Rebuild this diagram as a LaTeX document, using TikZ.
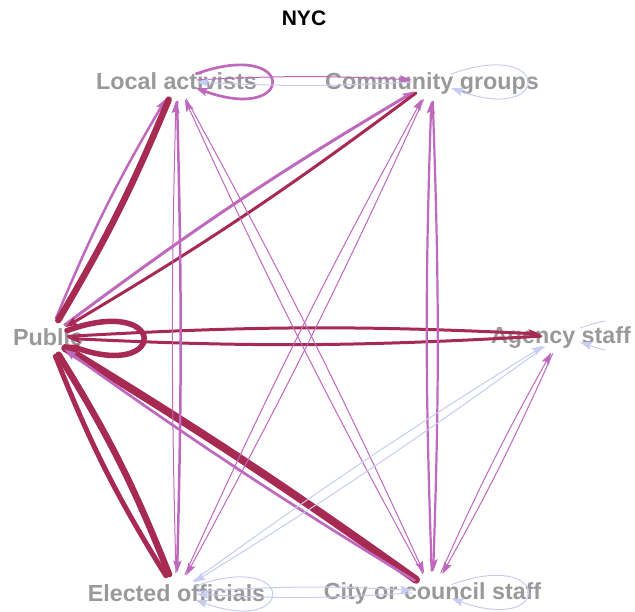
\documentclass[tikz,border=0pt]{standalone}
\usepackage{fontspec}
\setmainfont{Liberation Sans}
\usetikzlibrary{arrows.meta}
\definecolor{crim}{RGB}{167,42,83}
\definecolor{orch}{RGB}{190,104,190}
\definecolor{lav}{RGB}{200,204,240}
\definecolor{labgray}{RGB}{153,153,153}
\tikzset{
  vtx/.style={circle, minimum size=40pt, inner sep=0pt, draw=none},
  lab/.style={font=\bfseries\fontsize{23.3}{28}\selectfont, text=labgray, inner sep=0pt, anchor=base},
  crimline/.style={draw=crim, line cap=round},
  orchline/.style={draw=orch},
  lavline/.style={draw=lav, line width=1pt},
  arw/.style={-{Stealth[length=12pt,width=8pt,inset=2pt]}},
}
\begin{document}
\begin{tikzpicture}[x=1pt,y=1pt]
\useasboundingbox (0,0) rectangle (635,-611);
% vertices
\node[vtx] (la)  at (176.5,-81) {};
\node[vtx] (cg)  at (432,-81) {};
\node[vtx] (pub) at (48,-337.5) {};
\node[vtx] (as)  at (561,-335) {};
\node[vtx] (eo)  at (176.5,-593) {};
\node[vtx] (cs)  at (432.5,-591.5) {};
% title
\node[font=\bfseries\fontsize{21}{25}\selectfont, inner sep=0pt] (title) at (304,-18) {NYC};
% labels
\node[lab] (lla)  at (176.5,-89.4) {Local activists};
\node[lab] (lcg)  at (432,-89.4) {Community groups};
\node[lab] (lpub) at (48,-345.9) {Public};
\node[lab] (las)  at (561,-343.4) {Agency staff};
\node[lab] (leo)  at (176.5,-601.4) {Elected officials};
\node[lab] (lcs)  at (432.5,-599.9) {City or council staff};
% loops
\draw[orchline, line width=2.7pt, arw] (la.20) .. controls +(101.5,36.9) and +(101.5,-36.9) .. (la.-20);
\draw[lavline, arw] (cg.20) .. controls +(101.5,36.9) and +(101.5,-36.9) .. (cg.-20);
\draw[crimline, line width=5.5pt, arw] (pub.20) .. controls +(101.5,36.9) and +(101.5,-36.9) .. (pub.-20);
\draw[lavline, arw] (eo.20) .. controls +(101.5,36.9) and +(101.5,-36.9) .. (eo.-20);
\draw[lavline, arw] (cs.20) .. controls +(101.5,36.9) and +(101.5,-36.9) .. (cs.-20);
\begin{scope}
\clip (0,0) rectangle (605,-611);
\draw[lavline, arw] (as.20) .. controls +(101.5,36.9) and +(101.5,-36.9) .. (as.-20);
\end{scope}
% edges
\draw[orchline, line width=1pt, arw] (la) to[bend left=3] (cg);
\draw[lavline, arw] (cg) to[bend left=3] (la);
\draw[orchline, line width=2.5pt, arw] (pub) to[bend left=4] (la);
\draw[crimline, line width=6.5pt] (la) to[bend left=4] (pub);
\draw[orchline, line width=3pt, arw] (pub) to[bend left=3] (cg);
\draw[crimline, line width=3pt, arw] (cg) to[bend left=3] (pub);
\draw[crimline, line width=3pt, arw] (pub) to[bend left=3] (as);
\draw[crimline, line width=3pt, arw] (as) to[bend left=3] (pub);
\draw[crimline, line width=6.5pt] (pub) to[bend left=5] (eo);
\draw[crimline, line width=5pt] (eo) to[bend left=5] (pub);
\draw[crimline, line width=8pt] (pub) to[bend left=2] (cs);
\draw[orchline, line width=2.7pt, arw] (cs) to[bend left=2] (pub);
\draw[orchline, line width=2.5pt, arw] (la) to[bend left=1.5] (eo);
\draw[orchline, line width=1pt, arw] (eo) to[bend left=1.5] (la);
\draw[orchline, line width=1pt, arw] (la) to[bend left=2] (cs);
\draw[orchline, line width=1pt, arw] (cs) to[bend left=2] (la);
\draw[orchline, line width=1pt, arw] (cg) to[bend left=2] (eo);
\draw[orchline, line width=1pt, arw] (eo) to[bend left=2] (cg);
\draw[orchline, line width=2.2pt, arw] (cg) to[bend left=2] (cs);
\draw[orchline, line width=2.2pt, arw] (cs) to[bend left=2] (cg);
\draw[lavline, arw] (eo) to[bend left=2] (as);
\draw[lavline, arw] (as) to[bend left=2] (eo);
\draw[orchline, line width=1pt, arw] (cs) to[bend left=2.5] (as);
\draw[orchline, line width=1pt, arw] (as) to[bend left=2.5] (cs);
\draw[lavline, arw] (eo) to[bend left=3.5] (cs);
\draw[lavline, arw] (cs) to[bend left=3.5] (eo);
\end{tikzpicture}
\end{document}
